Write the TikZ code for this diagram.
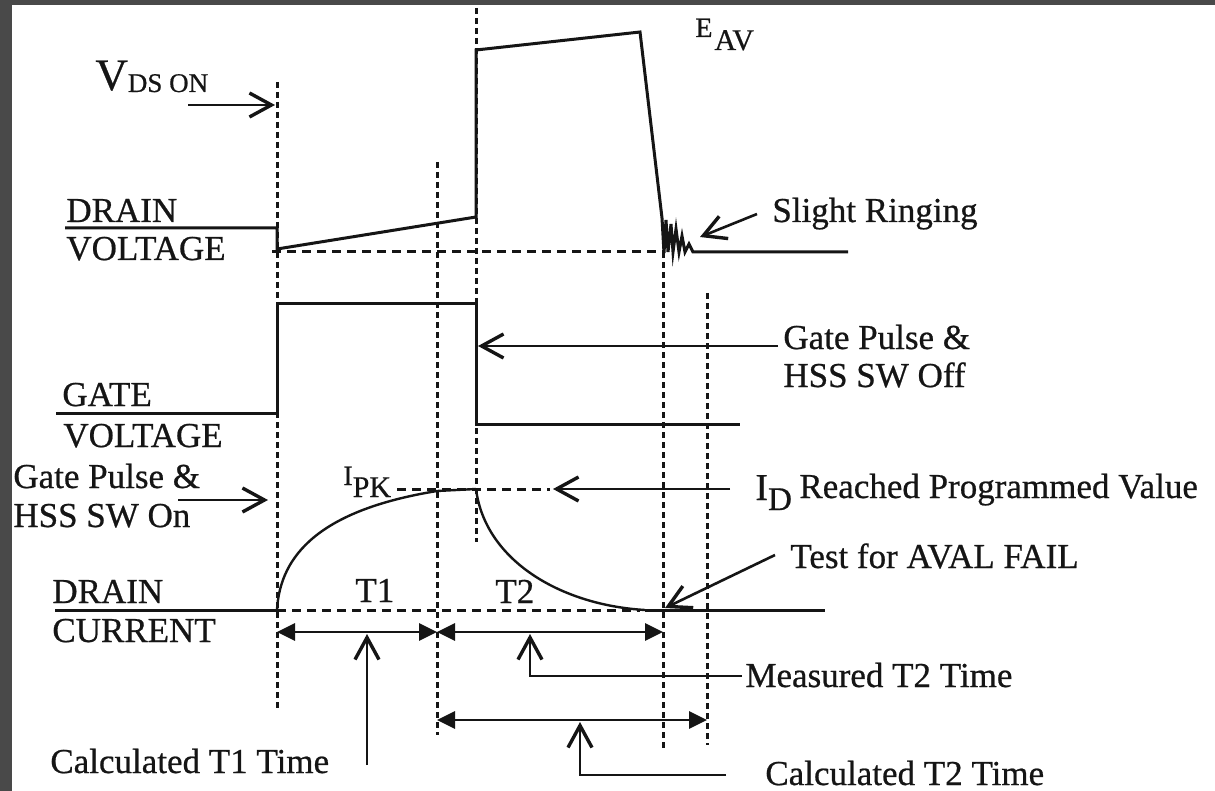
\documentclass[tikz,border=0pt]{standalone}
\usepackage{fontspec}
\setmainfont{Liberation Serif}[FakeBold=0.6]
\usetikzlibrary{arrows.meta}
\definecolor{frame}{HTML}{494949}
\definecolor{ink}{HTML}{151515}
\begin{document}
\begin{tikzpicture}[x=0.5pt,y=-0.5pt,
  wave/.style={line width=1.5pt,draw=ink,line join=miter},
  curvel/.style={line width=1.2pt,draw=ink},
  vguide/.style={line width=1.5pt,draw=ink,dash pattern=on 3pt off 2pt},
  hguide/.style={line width=1.5pt,draw=ink,dash pattern=on 4.5pt off 3pt},
  ptr/.style={line width=1.3pt,draw=ink,-{Straight Barb[length=11pt,width=12pt,line width=1.7pt]}},
  dbl/.style={line width=1.4pt,draw=ink,{Triangle[length=9pt,width=8.5pt]}-{Triangle[length=9pt,width=8.5pt]}},
  lbl/.style={anchor=base west,inner sep=0pt,text=ink,font=\fontsize{17.5}{19}\selectfont}]
% frame and background
\fill[white] (0,0) rectangle (1215,791);
\fill[frame] (0,0) rectangle (12,791);
\fill[frame] (0,0) rectangle (1215,5);
\useasboundingbox (0,0) rectangle (1215,791);

% vertical guides
\coordinate (g1t) at (277,82);  \coordinate (g1b) at (277,710);
\coordinate (g2t) at (437,162); \coordinate (g2b) at (437,735);
\coordinate (g3t) at (476,8);   \coordinate (g3b) at (476,542);
\coordinate (g4t) at (663,252); \coordinate (g4b) at (663,748);
\coordinate (g5t) at (707,293); \coordinate (g5b) at (707,745);
\draw[vguide] (g1t) -- (g1b);
\draw[vguide] (g2t) -- (g2b);
\draw[vguide] (g3t) -- (g3b);
\draw[vguide] (g4t) -- (g4b);
\draw[vguide] (g5t) -- (g5b);

% horizontal guides
\coordinate (hv1) at (272,252); \coordinate (hv2) at (663,252);
\coordinate (hp1) at (397,489); \coordinate (hp2) at (550,489);
\coordinate (hc1) at (277,610); \coordinate (hc2) at (640,610);
\draw[hguide] (hv1) -- (hv2);
\draw[hguide] (hp1) -- (hp2);
\draw[hguide] (hc1) -- (hc2);

% drain voltage waveform
\draw[wave] (65,228) -- (277,228) -- (277,249) -- (476,217) -- (476,50) -- (640,32) -- (662,218)
  -- (664,253) -- (666,220) -- (668,252) -- (671,224) -- (673,252) -- (676,229) -- (679,252)
  -- (682,236) -- (685,252) -- (689,244) -- (693,252) -- (848,252);

% gate voltage waveform
\draw[wave] (56,413) -- (277,413) -- (277,303) -- (476,303) -- (476,424) -- (740,424);

% drain current waveform
\draw[wave] (55,610) -- (277,610);
\draw[curvel] (277,610) .. controls (280,555) and (320,510) .. (437,491) -- (476,489);
\draw[curvel] (476,489) .. controls (485,560) and (560,605) .. (645,610);
\draw[wave] (645,610) -- (825,610);

% labels on the left
\node[lbl] (dv1) at (66,222) {DRAIN};
\node[lbl] (dv2) at (66,260) {VOLTAGE};
\node[lbl] (gv1) at (62,406) {GATE};
\node[lbl] (gv2) at (63,447) {VOLTAGE};
\node[lbl] (dc1) at (52,603) {DRAIN};
\node[lbl] (dc2) at (52,642) {CURRENT};
\node[lbl] (gon1) at (13,488) {Gate Pulse \&};
\node[lbl] (gon2) at (13,527) {HSS SW On};
\node[lbl] (vds) at (95,90) {\fontsize{22.5}{24}\selectfont V\raisebox{-1pt}{\fontsize{13.5}{15}\selectfont DS ON}};

% other labels
\node[lbl] (eav) at (695,37) {\fontsize{14}{15}\selectfont E\kern1pt\raisebox{-6.5pt}{\fontsize{15}{16}\selectfont AV}};
\node[lbl] (ipk) at (343,485) {\fontsize{14}{15}\selectfont I\raisebox{-6pt}{\fontsize{15}{16}\selectfont PK}};
\node[lbl] (idl) at (755,500) {\fontsize{19}{20}\selectfont I\raisebox{-5pt}{\fontsize{16.5}{17}\selectfont D}};
\node[lbl] (idt) at (799,498) {Reached Programmed Value};
\node[lbl] (ring) at (772,222) {Slight Ringing};
\node[lbl] (goff1) at (783,349) {Gate Pulse \&};
\node[lbl] (goff2) at (783,387) {HSS SW Off};
\node[lbl] (test) at (790,568) {Test for AVAL FAIL};
\node[lbl] (t1) at (355,602) {T1};
\node[lbl] (t2) at (495,603) {T2};
\node[lbl] (mt2) at (745,687) {Measured T2 Time};
\node[lbl] (ct1) at (50,773) {Calculated T1 Time};
\node[lbl] (ct2) at (765,785) {Calculated T2 Time};

% pointer arrows
\coordinate (vdsA) at (188,105);  \coordinate (vdsB) at (275,105);
\coordinate (gonA) at (178,500);  \coordinate (gonB) at (268,500);
\coordinate (goffA) at (778,346); \coordinate (goffB) at (478,346);
\coordinate (idA) at (730,489);   \coordinate (idB) at (553,489);
\coordinate (testA) at (775,555); \coordinate (testB) at (665,608);
\coordinate (ringA) at (757,214); \coordinate (ringB) at (700,237);
\coordinate (ct1A) at (367,765);  \coordinate (ct1B) at (367,634);
\coordinate (mt2A) at (742,676);  \coordinate (mt2K) at (530,676); \coordinate (mt2B) at (530,634);
\coordinate (ct2A) at (726,775);  \coordinate (ct2K) at (580,775); \coordinate (ct2B) at (580,722);
\draw[ptr] (vdsA) -- (vdsB);
\draw[ptr] (gonA) -- (gonB);
\draw[ptr] (goffA) -- (goffB);
\draw[ptr] (idA) -- (idB);
\draw[ptr] (testA) -- (testB);
\draw[ptr] (ringA) -- (ringB);
\draw[ptr] (ct1A) -- (ct1B);
\draw[ptr] (mt2A) -- (mt2K) -- (mt2B);
\draw[ptr] (ct2A) -- (ct2K) -- (ct2B);

% dimension arrows
\coordinate (d1a) at (277,632); \coordinate (d1b) at (437,632);
\coordinate (d2a) at (437,632); \coordinate (d2b) at (663,632);
\coordinate (d3a) at (437,720); \coordinate (d3b) at (707,720);
\draw[dbl] (d1a) -- (d1b);
\draw[dbl] (d2a) -- (d2b);
\draw[dbl] (d3a) -- (d3b);
\end{tikzpicture}
\end{document}
